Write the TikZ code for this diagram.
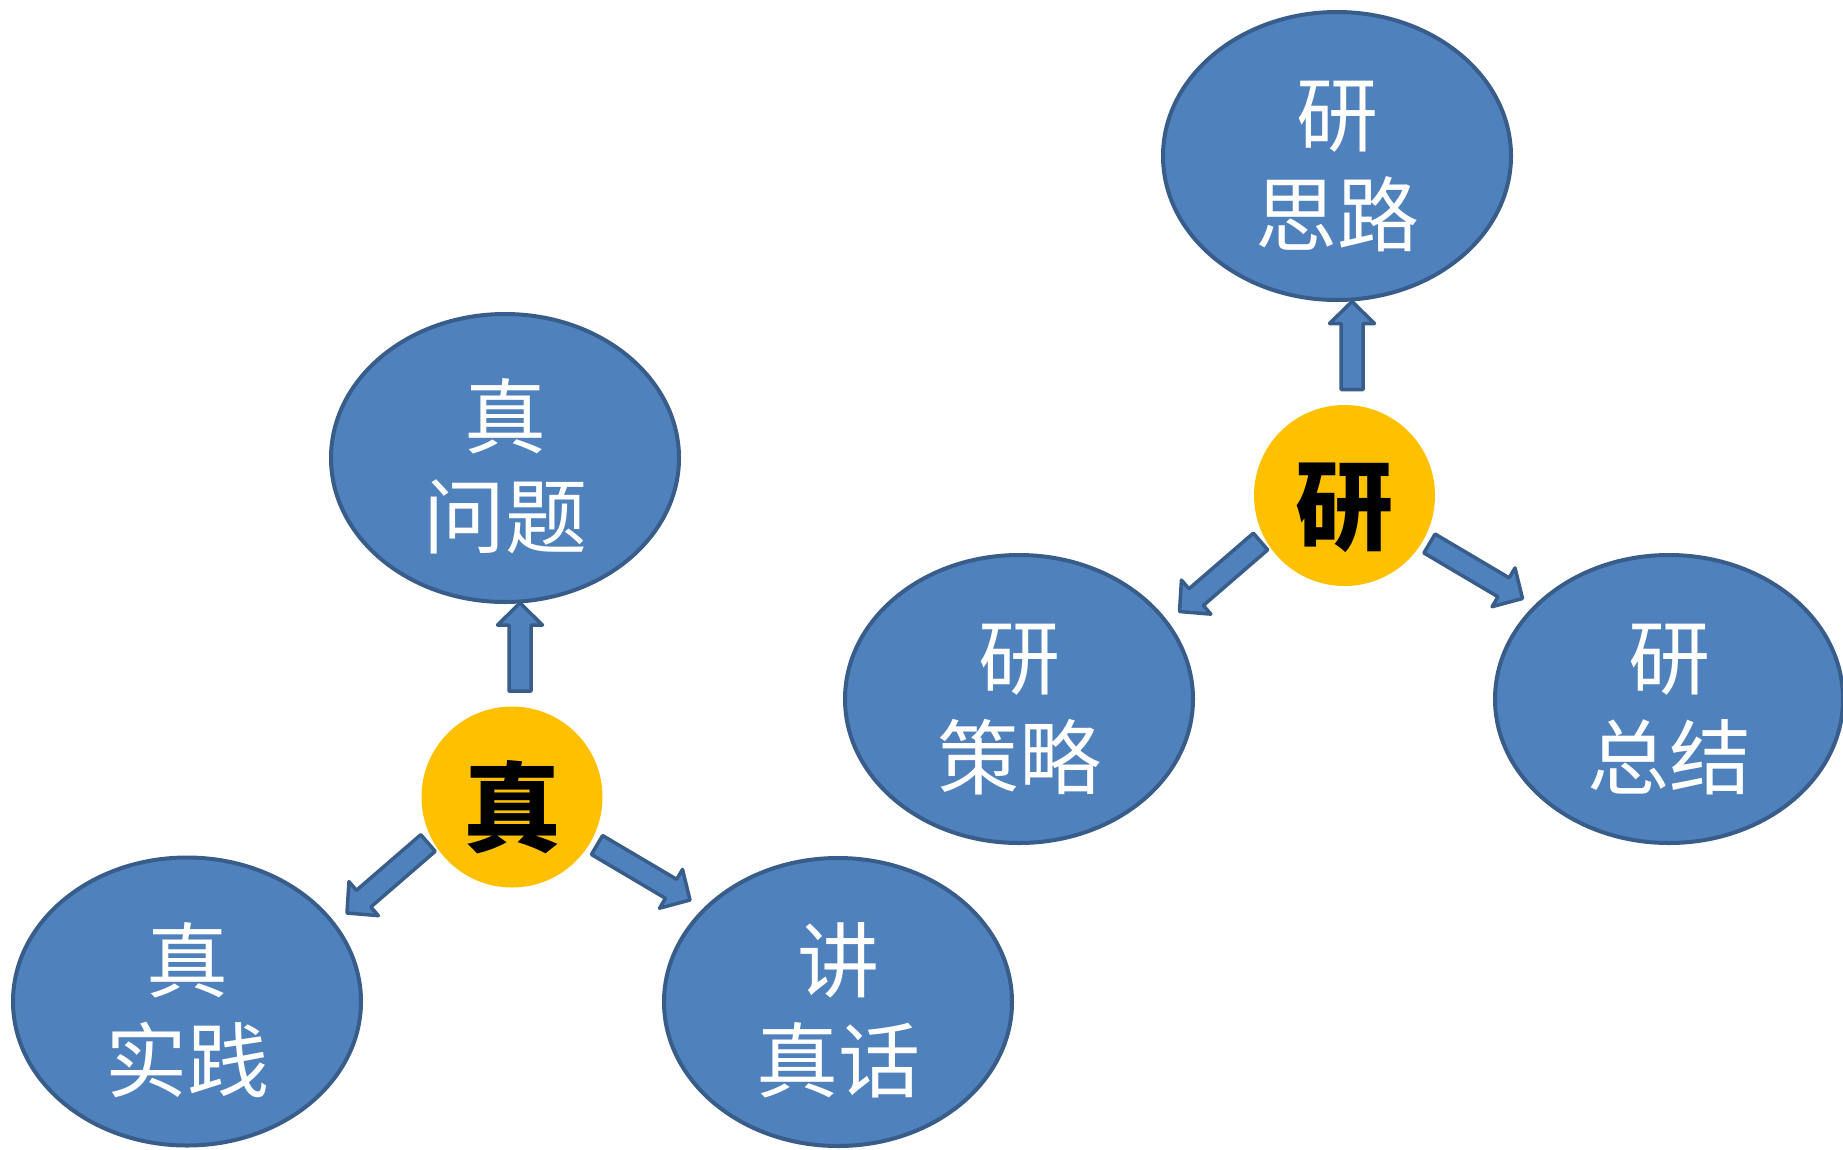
\documentclass[tikz,border=0pt]{standalone}
\usepackage{fontspec}
\newfontfamily\cjk{Noto Sans CJK SC}
\usetikzlibrary{shapes.geometric,calc}
\definecolor{bfill}{HTML}{4F81BD}
\definecolor{bline}{HTML}{385D8A}
\definecolor{yfill}{HTML}{FFC000}
\newcommand\leafstrut{\rule{0pt}{86pt}}
\newcommand\hubstrut{\rule{0pt}{104pt}}
\tikzset{
  leaf/.style={ellipse,draw=bline,line width=4pt,fill=bfill,minimum width=348pt,minimum height=288pt,inner sep=0pt,text=white,align=center,font=\cjk\fontsize{82}{100}\selectfont},
  hub/.style={circle,fill=yfill,minimum size=181pt,inner sep=0pt,text=black,font=\cjk\bfseries\fontsize{98}{110}\selectfont},
  blockarr/.style={draw=bline,fill=bfill,line width=3.5pt,line join=round}
}
\newcommand\blockarrow[2]{%
  \coordinate (#1h) at ($(#2)!22pt!(#1)$);
  \draw[blockarr] ($(#1)!11pt!90:(#2)$) -- ($(#1h)!11pt!-90:(#1)$) -- ($(#1h)!22.5pt!-90:(#1)$)
    -- (#2) -- ($(#1h)!22.5pt!90:(#1)$) -- ($(#1h)!11pt!90:(#1)$) -- ($(#1)!11pt!-90:(#2)$) -- cycle;
}
\begin{document}
\begin{tikzpicture}[x=1pt,y=-1pt]
\useasboundingbox (0,0) rectangle (1843,1149);
% hubs
\node[hub] (zhen) at (512,797) {\hubstrut 真};
\node[hub] (yan) at (1344.5,495.5) {\hubstrut 研};
% leaves
\node[leaf] (wenti) at (505,458) {\leafstrut 真\\问题};
\node[leaf] (shijian) at (187,1001.5) {\leafstrut 真\\实践};
\node[leaf] (zhenhua) at (838,1002) {\leafstrut 讲\\真话};
\node[leaf] (silu) at (1337,156) {\leafstrut 研\\思路};
\node[leaf] (celue) at (1019,699) {\leafstrut 研\\策略};
\node[leaf] (zongjie) at (1669,699) {\leafstrut 研\\总结};
% arrow end points
\coordinate (zu1) at ($(zhen)+(8,-106)$);
\coordinate (zu2) at ($(zhen)+(8,-194)$);
\coordinate (zl1) at ($(zhen)+(-84,46)$);
\coordinate (zl2) at ($(zhen)+(-165,116)$);
\coordinate (zr1) at ($(zhen)+(85,48)$);
\coordinate (zr2) at ($(zhen)+(178,103)$);
\coordinate (yu1) at ($(yan)+(7.5,-106)$);
\coordinate (yu2) at ($(yan)+(7.5,-194)$);
\coordinate (yl1) at ($(yan)+(-84,46)$);
\coordinate (yl2) at ($(yan)+(-165,116)$);
\coordinate (yr1) at ($(yan)+(85,48)$);
\coordinate (yr2) at ($(yan)+(178,103)$);
\blockarrow{zu1}{zu2}
\blockarrow{zl1}{zl2}
\blockarrow{zr1}{zr2}
\blockarrow{yu1}{yu2}
\blockarrow{yl1}{yl2}
\blockarrow{yr1}{yr2}
\end{tikzpicture}
\end{document}
